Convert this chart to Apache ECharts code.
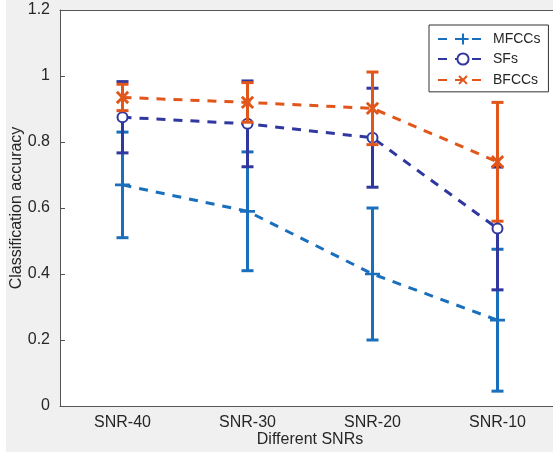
<!DOCTYPE html>
<html>
<head>
<meta charset="utf-8">
<script src="https://cdn.jsdelivr.net/npm/echarts@6/dist/echarts.min.js"></script>
<style>
  html, body { margin: 0; padding: 0; background: #fff; }
  #frame { position: absolute; left: 6px; top: 0; width: 547px; height: 452px; background: #f0f0f0; }
  #chart { position: absolute; left: 0; top: 0; width: 553px; height: 456px; }
</style>
</head>
<body>
<div id="frame"></div>
<div id="chart"></div>
<script>
var categories = ['SNR-40', 'SNR-30', 'SNR-20', 'SNR-10']
var mfccMean = [0.67, 0.59, 0.40, 0.26]
var mfccErr = [0.16, 0.18, 0.20, 0.215]
var sfMean = [0.875, 0.855, 0.813, 0.538]
var sfErr = [0.108, 0.13, 0.15, 0.186]
var bfccMean = [0.935, 0.92, 0.902, 0.74]
var bfccErr = [0.04, 0.06, 0.11, 0.18]

var colors = { mfcc: '#1a6fbd', sf: '#3038a0', bfcc: '#e0561b' }
var plusPath = 'path://M-1.8,-10 H1.8 V-1.8 H10 V1.8 H1.8 V10 H-1.8 V1.8 H-10 V-1.8 H-1.8 Z'
var font = 'Liberation Sans, Arial, sans-serif'

function errData(mean, err) {
  return mean.map(function (m, i) { return [i, m - err[i], m + err[i]] })
}

function renderBar(params, api) {
  var low = api.coord([api.value(0), api.value(1)])
  var high = api.coord([api.value(0), api.value(2)])
  var half = 6
  var style = { stroke: api.visual('color'), lineWidth: 3, fill: null }
  return {
    type: 'group',
    children: [
      { type: 'line', shape: { x1: low[0], y1: low[1], x2: high[0], y2: high[1] }, style: style },
      { type: 'line', shape: { x1: low[0] - half, y1: low[1], x2: low[0] + half, y2: low[1] }, style: style },
      { type: 'line', shape: { x1: high[0] - half, y1: high[1], x2: high[0] + half, y2: high[1] }, style: style }
    ]
  }
}

function lineSeries(name, data, color, symbol, size, rotate, z) {
  return {
    name: name,
    type: 'line',
    data: data,
    z: z,
    symbol: symbol,
    symbolSize: size,
    symbolRotate: rotate,
    showAllSymbol: true,
    itemStyle: symbol === 'emptyCircle'
      ? { color: color, borderColor: color, borderWidth: 2.5 }
      : { color: color },
    lineStyle: { color: color, width: 3, type: [9, 8] }
  }
}

function barSeries(mean, err, color, z) {
  return {
    type: 'custom',
    renderItem: renderBar,
    data: errData(mean, err),
    itemStyle: { color: color },
    encode: { x: 0, y: [1, 2] },
    z: z,
    silent: true
  }
}

var chart = echarts.init(document.getElementById('chart'))
chart.setOption({
  animation: false,
  backgroundColor: 'transparent',
  textStyle: { fontFamily: font },
  grid: {
    left: 60, top: 10, width: 500, height: 396,
    outerBoundsMode: 'none', containLabel: false,
    backgroundColor: '#fff', show: true, borderWidth: 0
  },
  legend: {
    orient: 'vertical',
    left: 429,
    top: 25,
    padding: [7, 8, 4, 8],
    itemGap: 6,
    itemWidth: 50,
    itemHeight: 14,
    borderColor: '#333',
    borderWidth: 1,
    backgroundColor: '#fff',
    borderRadius: 0,
    textStyle: { fontSize: 14, color: '#262626', fontFamily: font },
    data: ['MFCCs', 'SFs', 'BFCCs']
  },
  xAxis: [{
    type: 'category',
    data: categories,
    boundaryGap: true,
    name: 'Different SNRs',
    nameLocation: 'middle',
    nameGap: 26,
    nameMoveOverlap: false,
    nameTextStyle: { fontSize: 16, color: '#262626' },
    axisLine: { lineStyle: { color: '#555', width: 1 } },
    axisTick: { inside: true, length: 5, alignWithLabel: true, lineStyle: { color: '#555' } },
    axisLabel: { fontSize: 16, color: '#262626', margin: 9 }
  }, {
    type: 'category',
    data: categories,
    position: 'top',
    boundaryGap: true,
    axisLine: { lineStyle: { color: '#555', width: 1 } },
    axisTick: { inside: true, length: 5, alignWithLabel: true, lineStyle: { color: '#555' } },
    axisLabel: { show: false }
  }],
  yAxis: {
    type: 'value',
    min: 0,
    max: 1.2,
    interval: 0.2,
    name: 'Classification accuracy',
    nameLocation: 'middle',
    nameGap: 35,
    nameMoveOverlap: false,
    nameTextStyle: { fontSize: 16, color: '#262626' },
    axisLine: { show: true, lineStyle: { color: '#555', width: 1 } },
    axisTick: { show: true, inside: true, length: 5, lineStyle: { color: '#555' } },
    axisLabel: { fontSize: 16, color: '#262626', margin: 10 },
    splitLine: { show: false }
  },
  series: [
    barSeries(mfccMean, mfccErr, colors.mfcc, 2),
    lineSeries('MFCCs', mfccMean, colors.mfcc, plusPath, 15, 0, 3),
    barSeries(sfMean, sfErr, colors.sf, 4),
    lineSeries('SFs', sfMean, colors.sf, 'emptyCircle', 10, 0, 5),
    barSeries(bfccMean, bfccErr, colors.bfcc, 6),
    lineSeries('BFCCs', bfccMean, colors.bfcc, plusPath, 16, 45, 7)
  ]
})
</script>
</body>
</html>
